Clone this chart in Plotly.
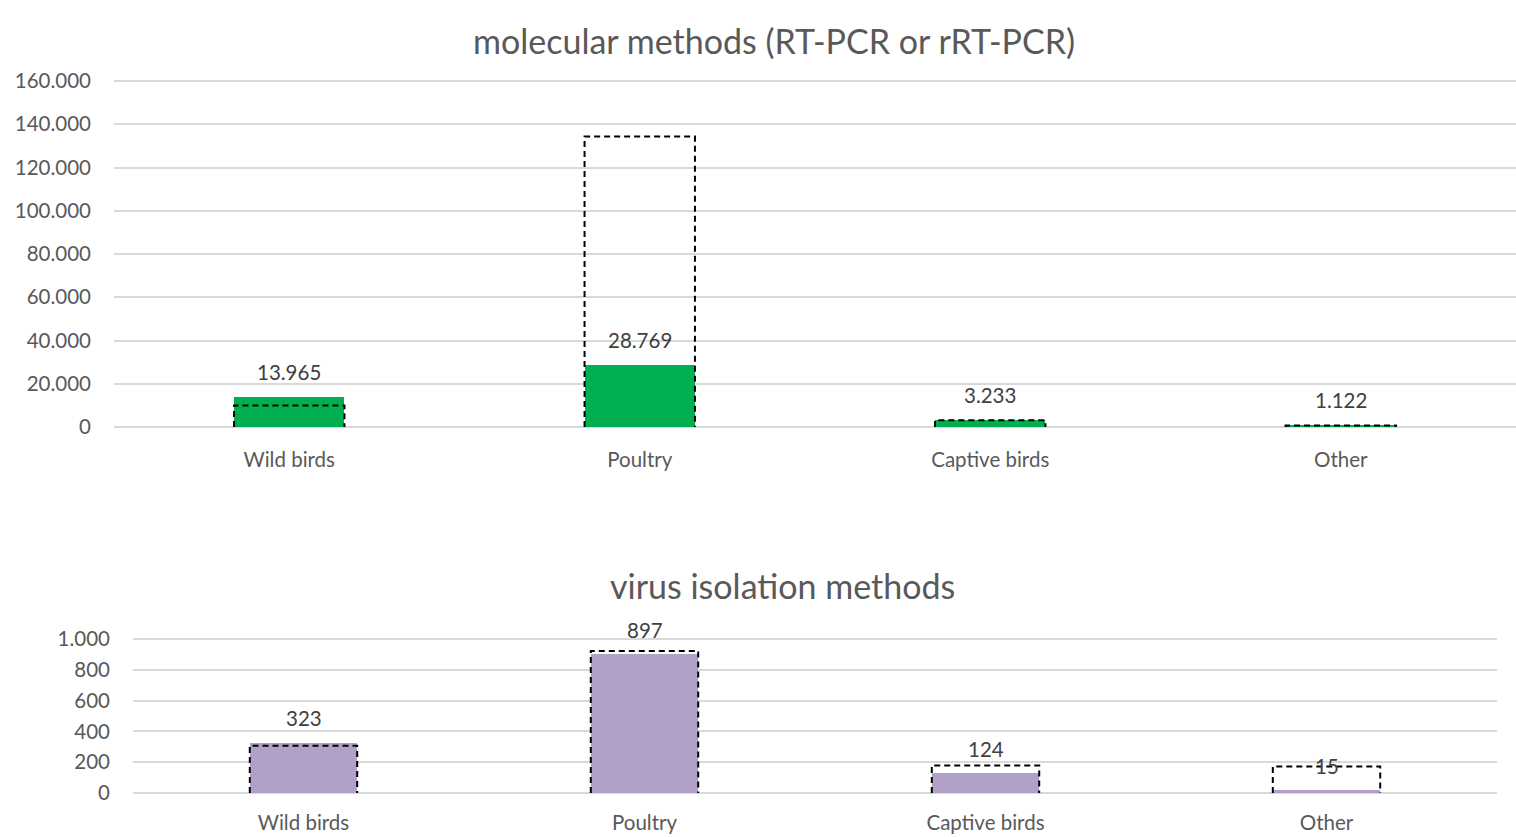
import plotly.graph_objects as go

categories = ["Wild birds", "Poultry", "Captive birds", "Other"]

# molecular methods (RT-PCR or rRT-PCR)
mol_values = [13965, 28769, 3233, 1122]
mol_outline = [10000, 134300, 3100, 700]

# virus isolation methods
vi_values = [323, 897, 124, 15]
vi_outline = [307, 922, 179, 172]

mol_ticks = [0, 20000, 40000, 60000, 80000, 100000, 120000, 140000, 160000]
vi_ticks = [0, 200, 400, 600, 800, 1000]

GREEN = "#00B050"
PURPLE = "#B1A0C7"
TEXT = "#595959"
GRID = "#D9D9D9"
FONT = "Lato"
BAR_W = 0.315

W, H = 1516, 837


def px_x(v):
    return v / W


def px_y(v):
    return 1 - v / H


fig = go.Figure()
xs = list(range(len(categories)))


def add_panel(values, outline, color, xa, ya):
    fig.add_trace(go.Bar(x=xs, y=values, width=BAR_W, marker=dict(color=color, line=dict(width=0)),
                         xaxis=xa, yaxis=ya, showlegend=False, hoverinfo="y"))
    for i, v in zip(xs, outline):
        x0, x1 = i - BAR_W / 2, i + BAR_W / 2
        fig.add_trace(go.Scatter(x=[x0, x0, x1, x1], y=[0, v, v, 0], mode="lines",
                                 line=dict(color="black", width=2, dash="6px,4px"),
                                 xaxis=xa, yaxis=ya, showlegend=False, hoverinfo="skip"))
    for i, v in zip(xs, values):
        fig.add_annotation(x=i, y=v, xref=xa, yref=ya, text=f"{v:,}".replace(",", "."),
                           showarrow=False, yshift=25, font=dict(family=FONT, size=20.5, color="#404040"))


add_panel(mol_values, mol_outline, GREEN, "x", "y")
add_panel(vi_values, vi_outline, PURPLE, "x2", "y2")

axis_common = dict(showline=False, zeroline=False, ticks="", automargin=False,
                   tickfont=dict(family=FONT, size=20.5, color=TEXT))

# small padding so that the gridlines at both ends of each value axis are drawn
top_px, bot_px = 81, 427
pad_top = 0.01 * 160000
pad_px_top = (bot_px - top_px) * 0.01
vtop_px, vbot_px = 639, 793
pad_vi = 0.01 * 1000
pad_px_vi = (vbot_px - vtop_px) * 0.01

fig.update_layout(
    width=W, height=H,
    margin=dict(l=0, r=0, t=0, b=0, autoexpand=False),
    paper_bgcolor="white", plot_bgcolor="white",
    separators=",.",
    bargap=0,
    xaxis=dict(domain=[px_x(114), 1.0], range=[-0.5, 3.5], tickvals=xs, ticktext=categories,
               showgrid=False, ticklabelstandoff=15, **axis_common),
    yaxis=dict(domain=[px_y(bot_px + pad_px_top), px_y(top_px - pad_px_top)],
               range=[-pad_top, 160000 + pad_top], tickvals=mol_ticks,
               tickformat=",d", showgrid=True, gridcolor=GRID, gridwidth=1.5,
               ticklabelstandoff=22, **axis_common),
    xaxis2=dict(domain=[px_x(133), px_x(1497)], range=[-0.5, 3.5], tickvals=xs, ticktext=categories,
                showgrid=False, ticklabelstandoff=14, anchor="y2", **axis_common),
    yaxis2=dict(domain=[px_y(vbot_px + pad_px_vi), px_y(vtop_px - pad_px_vi)],
                range=[-pad_vi, 1000 + pad_vi], tickvals=vi_ticks,
                tickformat=",d", showgrid=True, gridcolor=GRID, gridwidth=1.5,
                ticklabelstandoff=22, anchor="x2", **axis_common),
)

fig.add_annotation(x=px_x(774), y=px_y(40), xref="paper", yref="paper", showarrow=False,
                   xanchor="center", yanchor="middle",
                   text="molecular methods (RT-PCR or rRT-PCR)", font=dict(family=FONT, size=34, color=TEXT))
fig.add_annotation(x=px_x(782), y=px_y(585), xref="paper", yref="paper", showarrow=False,
                   xanchor="center", yanchor="middle",
                   text="virus isolation methods", font=dict(family=FONT, size=34, color=TEXT))

fig.write_html("out.html", config={"displayModeBar": False},
               post_script="document.body.style.margin='0';")
